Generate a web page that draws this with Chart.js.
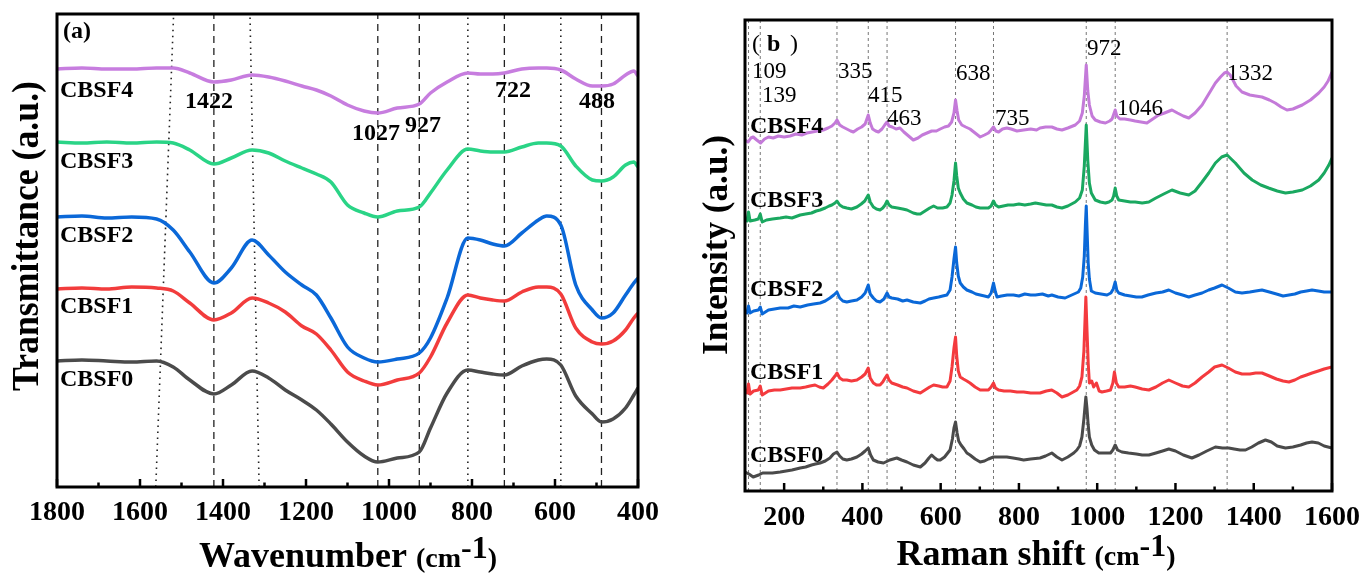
<!DOCTYPE html>
<html><head><meta charset="utf-8">
<script src="https://cdn.jsdelivr.net/npm/chart.js@4.4.1/dist/chart.umd.min.js"></script>
<style>
html,body{margin:0;padding:0;background:#fff;width:1372px;height:574px;overflow:hidden}
#wa{position:absolute;left:0;top:0;width:686px;height:574px}
#wb{position:absolute;left:686px;top:0;width:686px;height:574px}
</style></head><body>
<div id="wa"><canvas id="ca" width="686" height="574"></canvas></div>
<div id="wb"><canvas id="cb" width="686" height="574"></canvas></div>
<script>
// ---------- (a) FTIR data ----------
const seriesNames = ['CBSF0','CBSF1','CBSF2','CBSF3','CBSF4'];
const ftirWavenumbers = [1800,1740,1680,1620,1560,1520,1480,1422,1380,1330,1290,1250,1210,1175,1140,1100,1060,1027,980,927,900,860,810,780,750,722,680,640,620,586,550,510,488,460,430,410,400];
const ftirCBSF4 = [418,419,418,418,419,419,414,405,407,412,410,406,401,397,391,382,376,374,379,383,394,405,414,413,413,414,418,419,419,417,408,401,401,403,412,416,411];
const ftirCBSF3 = [345,344,345,344,345,344,337,323,329,337,334,326,319,313,305,282,274,270,276,280,294,317,338,336,335,335,340,344,344,341,321,307,306,310,322,325,320];
const ftirCBSF2 = [270,271,269,270,268,257,235,204,219,247,232,215,202,192,169,140,129,125,128,134,149,189,249,247,243,241,254,267,271,262,202,177,169,174,192,204,209];
const ftirCBSF1 = [198,199,198,200,199,196,184,167,174,189,184,175,161,153,137,115,106,102,107,114,130,164,192,189,187,186,195,200,200,193,159,145,143,146,157,169,174];
const ftirCBSF0 = [126,127,126,125,126,120,107,93,102,116,109,97,87,77,63,45,31,25,29,35,59,94,117,115,113,112,121,127,128,122,91,73,65,68,79,92,99];
const ftirTicks = [1800,1600,1400,1200,1000,800,600,400];
const ftirMinorTicks = [1700,1500,1300,1100,900,700,500];
const ftirDashedBands = [1422,1027,927,722,488];
const ftirBandLabels = ['1422','1027','927','722','488'];
// dotted guide lines: [bottom, top] wavenumber
const ftirDottedBands = [[1562,1519],[1313,1335],[810,810],[586,586]];

// ---------- (b) Raman data: [Raman shift, intensity] ----------
const ramanCBSF4 = [[100,351],[108,349],[115,353],[121,354],[130,351],[140,348],[150,352],[160,354],[172,353],[185,355],[200,354],[215,355],[230,357],[245,356],[258,358],[272,359],[285,360],[300,361],[312,363],[322,365],[330,368],[335,371],[342,366],[350,364],[360,362],[370,360],[377,359],[388,362],[398,364],[407,367],[415,376],[420,368],[426,362],[434,360],[441,359],[450,362],[457,366],[463,369],[468,365],[476,364],[486,362],[496,363],[506,359],[518,355],[530,351],[542,353],[553,356],[565,358],[577,360],[589,360],[599,362],[610,364],[620,365],[628,369],[634,378],[638,391],[642,380],[646,371],[654,366],[664,364],[675,362],[688,358],[701,354],[712,356],[722,358],[729,361],[735,364],[741,360],[748,359],[758,362],[769,363],[780,362],[795,360],[812,361],[830,362],[845,361],[854,363],[868,364],[884,364],[897,362],[910,361],[925,363],[944,366],[955,370],[962,378],[967,395],[972,426],[976,400],[980,386],[987,375],[995,371],[1008,369],[1021,368],[1032,370],[1038,372],[1046,381],[1050,375],[1058,372],[1070,372],[1085,371],[1097,370],[1112,369],[1127,368],[1142,372],[1157,376],[1172,378],[1191,381],[1205,378],[1220,375],[1234,373],[1250,378],[1268,386],[1285,397],[1302,408],[1315,414],[1325,418],[1332,419],[1340,416],[1355,405],[1370,399],[1390,396],[1405,395],[1421,394],[1440,391],[1455,388],[1470,384],[1485,381],[1500,382],[1512,384],[1524,386],[1545,391],[1566,398],[1580,404],[1590,410],[1600,419]];
const ramanCBSF3 = [[100,271],[105,270],[109,279],[113,270],[125,271],[134,272],[139,277],[144,269],[155,271],[170,272],[190,273],[205,274],[220,273],[241,276],[255,277],[270,278],[282,280],[292,281],[305,283],[315,285],[322,286],[330,288],[335,290],[342,286],[350,284],[360,283],[372,282],[386,284],[397,287],[406,290],[415,296],[420,289],[428,284],[436,282],[445,281],[452,283],[458,286],[463,290],[468,286],[475,284],[490,283],[503,282],[514,281],[530,278],[540,277],[548,277],[560,280],[572,283],[582,285],[592,283],[605,283],[616,284],[624,288],[629,296],[634,310],[638,328],[641,315],[645,303],[650,298],[658,292],[667,288],[680,286],[690,284],[701,283],[712,283],[722,283],[729,285],[735,290],[740,286],[748,284],[760,285],[772,286],[786,286],[800,287],[815,286],[830,287],[842,288],[856,287],[870,286],[884,286],[897,284],[910,283],[925,285],[944,289],[955,293],[962,301],[967,325],[972,366],[976,330],[980,308],[985,298],[995,291],[1008,289],[1021,288],[1030,289],[1038,291],[1042,295],[1046,303],[1050,295],[1055,291],[1070,290],[1085,289],[1097,289],[1115,288],[1132,289],[1150,293],[1170,297],[1191,301],[1212,298],[1234,296],[1250,300],[1268,309],[1285,318],[1302,328],[1318,334],[1332,336],[1345,331],[1353,328],[1375,318],[1396,311],[1418,306],[1438,303],[1460,300],[1481,298],[1500,299],[1524,301],[1545,305],[1566,311],[1580,318],[1592,326],[1600,333]];
const ramanCBSF2 = [[100,179],[105,178],[109,185],[113,178],[122,180],[134,181],[139,184],[144,177],[160,181],[175,182],[190,183],[210,183],[225,185],[241,184],[260,186],[275,187],[292,188],[305,190],[317,193],[327,196],[335,199],[342,193],[350,190],[360,189],[372,190],[386,191],[398,194],[407,198],[415,206],[420,197],[428,193],[436,190],[445,189],[455,192],[463,198],[468,194],[475,193],[490,192],[503,190],[514,191],[530,189],[548,188],[560,190],[570,192],[582,193],[595,194],[605,195],[616,196],[624,201],[629,214],[634,232],[638,244],[641,228],[645,215],[650,208],[658,204],[667,201],[680,199],[690,197],[701,196],[712,195],[722,194],[729,198],[735,208],[740,199],[744,194],[755,195],[770,196],[786,196],[800,195],[815,197],[830,196],[842,196],[860,197],[875,195],[884,196],[900,194],[918,193],[935,196],[952,199],[958,203],[963,214],[967,235],[970,268],[972,285],[974,262],[977,228],[980,212],[985,200],[995,198],[1010,197],[1025,196],[1035,198],[1041,202],[1046,209],[1050,201],[1055,198],[1070,196],[1085,195],[1100,194],[1114,194],[1130,196],[1150,198],[1167,199],[1183,201],[1200,198],[1218,196],[1234,194],[1250,196],[1268,198],[1285,201],[1300,203],[1319,206],[1335,203],[1353,199],[1370,198],[1390,199],[1405,200],[1421,201],[1440,199],[1458,197],[1475,195],[1490,196],[1505,197],[1520,199],[1535,200],[1549,201],[1565,200],[1580,199],[1600,199]];
const ramanCBSF1 = [[100,99],[105,98],[109,107],[113,97],[122,100],[134,101],[139,105],[144,96],[160,100],[175,101],[190,101],[205,102],[220,103],[241,103],[255,104],[266,105],[279,106],[290,104],[300,103],[312,107],[322,111],[330,115],[335,118],[342,113],[350,111],[360,111],[372,110],[386,111],[398,114],[407,117],[415,123],[420,113],[428,108],[436,106],[445,106],[452,109],[458,113],[463,116],[468,111],[475,108],[490,106],[503,104],[514,103],[530,100],[548,98],[560,101],[572,104],[582,106],[595,105],[605,104],[616,104],[624,110],[629,124],[634,143],[638,154],[641,135],[645,120],[650,114],[658,112],[667,110],[675,108],[688,104],[701,101],[712,101],[722,101],[729,104],[735,108],[740,103],[748,101],[762,100],[778,100],[795,99],[812,99],[830,98],[854,98],[870,100],[884,101],[897,98],[910,94],[925,96],[948,101],[955,105],[961,114],[966,140],[971,194],[974,160],[977,128],[980,108],[986,110],[991,104],[998,108],[1005,100],[1012,99],[1024,100],[1034,101],[1040,108],[1044,119],[1049,108],[1055,104],[1070,104],[1085,105],[1097,104],[1115,102],[1132,101],[1150,104],[1167,108],[1183,111],[1200,108],[1218,105],[1234,104],[1250,108],[1268,114],[1285,119],[1300,124],[1319,126],[1335,123],[1353,119],[1370,117],[1390,117],[1405,118],[1421,118],[1440,115],[1458,112],[1475,110],[1490,109],[1505,111],[1520,114],[1535,116],[1549,118],[1565,120],[1580,122],[1600,124]];
const ramanCBSF0 = [[100,19],[110,17],[121,14],[135,16],[145,18],[155,18],[170,18],[190,19],[205,20],[220,21],[241,23],[255,24],[270,26],[280,27],[292,28],[305,30],[317,33],[326,37],[335,39],[342,35],[350,32],[360,31],[372,32],[386,34],[398,37],[407,40],[415,43],[421,36],[428,31],[440,29],[454,28],[470,31],[488,33],[500,31],[514,29],[530,26],[548,24],[560,28],[570,33],[577,36],[585,33],[592,31],[599,31],[610,34],[618,38],[624,41],[630,52],[634,63],[638,69],[642,58],[646,50],[652,46],[660,42],[667,38],[675,36],[688,32],[701,29],[712,30],[722,32],[735,34],[750,34],[769,34],[785,33],[800,32],[812,31],[830,32],[854,33],[868,35],[884,38],[897,34],[910,31],[925,34],[940,38],[948,41],[955,45],[961,54],[966,72],[971,94],[974,82],[977,66],[980,54],[986,46],[993,41],[1004,38],[1020,38],[1034,38],[1040,41],[1046,46],[1052,41],[1063,39],[1080,38],[1100,37],[1115,36],[1132,36],[1150,38],[1167,40],[1183,42],[1200,40],[1220,36],[1242,33],[1260,36],[1280,40],[1302,44],[1320,43],[1336,43],[1350,42],[1365,41],[1379,41],[1395,44],[1412,48],[1430,51],[1445,49],[1460,45],[1481,43],[1500,44],[1520,46],[1535,48],[1549,49],[1565,48],[1580,45],[1600,43]];
const ramanTicks = [200,400,600,800,1000,1200,1400,1600];
const ramanMinorTicks = [300,500,700,900,1100,1300,1500];
const ramanBands = [109,139,335,415,463,638,735,972,1046,1332];

// ---------- helpers ----------
const FONT = "'Liberation Serif','Times New Roman',serif";
const pts = (xs, ys) => xs.map((x, i) => ({x, y: ys[i]}));
const pairPts = (arr) => arr.map(p => ({x: p[0], y: p[1]}));
const guide = (xb, xt, ymax) => [{x: xb, y: 0}, {x: xt, y: ymax}];

function drawRich(ctx, parts, cx, by) {
  let w = 0;
  parts.forEach(p => { ctx.font = p.font; p.w = ctx.measureText(p.t).width; w += p.w; });
  let x = cx - w / 2;
  ctx.textAlign = 'left'; ctx.textBaseline = 'alphabetic';
  parts.forEach(p => { ctx.font = p.font; ctx.fillText(p.t, x, by - (p.dy || 0)); x += p.w; });
}

function decor(o) {
  return {
    id: 'decor' + o.key,
    afterDraw(chart) {
      const ctx = chart.ctx, a = chart.chartArea, xs = chart.scales.x;
      ctx.save();
      ctx.strokeStyle = '#000'; ctx.lineCap = 'butt';
      ctx.lineWidth = 2.5;
      o.major.forEach(v => { const p = xs.getPixelForValue(v); ctx.beginPath(); ctx.moveTo(p, a.bottom); ctx.lineTo(p, a.bottom - 8); ctx.stroke(); });
      o.minor.forEach(v => { const p = xs.getPixelForValue(v); ctx.beginPath(); ctx.moveTo(p, a.bottom); ctx.lineTo(p, a.bottom - 4.5); ctx.stroke(); });
      ctx.lineWidth = 3;
      ctx.strokeRect(a.left, a.top, a.right - a.left, a.bottom - a.top);
      ctx.fillStyle = '#000';
      o.texts.forEach(t => { ctx.font = t.font; ctx.textAlign = 'left'; ctx.textBaseline = 'alphabetic'; ctx.fillText(t.t, t.x, t.y); });
      drawRich(ctx, o.xTitle, o.xTitleX, o.xTitleY);
      ctx.save();
      ctx.translate(o.yTitleX, o.yTitleY); ctx.rotate(-Math.PI / 2);
      ctx.font = o.yTitleFont; ctx.textAlign = 'center'; ctx.textBaseline = 'alphabetic';
      const w = ctx.measureText(o.yTitle).width;
      ctx.scale(o.yTitleLen / w, 1);
      ctx.fillText(o.yTitle, 0, 0);
      ctx.restore();
      ctx.restore();
    }
  };
}

const B24 = 'bold 24px ' + FONT, R23 = '23px ' + FONT;
const titleParts = (main) => [
  {t: main + ' ', font: 'bold 36px ' + FONT},
  {t: '(cm', font: 'bold 28px ' + FONT},
  {t: '-1', font: 'bold 32px ' + FONT, dy: 9},
  {t: ')', font: 'bold 28px ' + FONT}
];
const tickFont = {family: FONT, size: 28, weight: 'bold'};

// ---------- chart (a) ----------
const YA = 473;
const ftirColors = ['#4b4b4b','#f23c3c','#0b68d8','#2ad486','#c77ddf'];
const ftirSeries = [ftirCBSF0, ftirCBSF1, ftirCBSF2, ftirCBSF3, ftirCBSF4];
const dsA = ftirSeries.map((s, i) => ({
  label: seriesNames[i], data: pts(ftirWavenumbers, s), borderColor: ftirColors[i],
  borderWidth: 3.5, pointRadius: 0, cubicInterpolationMode: 'monotone', order: 1
}));
ftirDashedBands.forEach(b => dsA.push({data: guide(b, b, YA), borderColor: '#222', borderWidth: 1.3, borderDash: [7, 5], pointRadius: 0, order: 5}));
ftirDottedBands.forEach(b => dsA.push({data: guide(b[0], b[1], YA), borderColor: '#222', borderWidth: 1.6, borderDash: [1.6, 4.4], pointRadius: 0, order: 5}));

new Chart(document.getElementById('ca'), {
  type: 'line',
  data: {datasets: dsA},
  options: {
    responsive: false, animation: false, devicePixelRatio: 1,
    layout: {padding: {left: 0, top: 14, right: 48, bottom: 0}},
    plugins: {legend: {display: false}, tooltip: {enabled: false}},
    scales: {
      x: {type: 'linear', reverse: true, min: 400, max: 1800,
        grid: {display: false, drawTicks: false}, border: {display: false},
        afterBuildTicks: s => { s.ticks = ftirTicks.map(v => ({value: v})); },
        afterFit: s => { s.height = 87; },
        ticks: {font: tickFont, color: '#000', padding: 9, maxRotation: 0, autoSkip: false, callback: v => String(v)}},
      y: {min: 0, max: YA, grid: {display: false}, border: {display: false}, ticks: {display: false},
        afterFit: s => { s.width = 57; }}
    }
  },
  plugins: [decor({
    key: 'a', major: ftirTicks, minor: ftirMinorTicks,
    texts: [
      {t: '(a)', x: 63, y: 38, font: 'bold 24px ' + FONT},
      {t: 'CBSF4', x: 60, y: 97, font: B24},
      {t: 'CBSF3', x: 60, y: 168, font: B24},
      {t: 'CBSF2', x: 60, y: 242, font: B24},
      {t: 'CBSF1', x: 60, y: 313, font: B24},
      {t: 'CBSF0', x: 60, y: 386, font: B24},
      {t: ftirBandLabels[0], x: 185, y: 108, font: B24},
      {t: ftirBandLabels[1], x: 352, y: 140, font: B24},
      {t: ftirBandLabels[2], x: 405, y: 132, font: B24},
      {t: ftirBandLabels[3], x: 495, y: 97, font: B24},
      {t: ftirBandLabels[4], x: 579, y: 108, font: B24}
    ],
    xTitle: titleParts('Wavenumber'), xTitleX: 348, xTitleY: 567,
    yTitle: 'Transmittance (a.u.)', yTitleFont: 'bold 37px ' + FONT, yTitleLen: 310, yTitleX: 38, yTitleY: 236
  })]
});

// ---------- chart (b) ----------
const YB = 471;
const ramanColors = ['#4a4a4a','#f43a3e','#0a68d8','#1aa860','#c47ad9'];
const ramanSeries = [ramanCBSF0, ramanCBSF1, ramanCBSF2, ramanCBSF3, ramanCBSF4];
const dsB = ramanSeries.map((s, i) => ({
  label: seriesNames[i], data: pairPts(s), borderColor: ramanColors[i],
  borderWidth: 3, pointRadius: 0, tension: 0, borderJoinStyle: 'round', order: 1
}));
ramanBands.forEach(b => dsB.push({data: guide(b, b, YB), borderColor: '#777', borderWidth: 1, borderDash: [3, 3], pointRadius: 0, order: 5}));

new Chart(document.getElementById('cb'), {
  type: 'line',
  data: {datasets: dsB},
  options: {
    responsive: false, animation: false, devicePixelRatio: 1,
    layout: {padding: {left: 0, top: 20, right: 40, bottom: 0}},
    plugins: {legend: {display: false}, tooltip: {enabled: false}},
    scales: {
      x: {type: 'linear', min: 100, max: 1600,
        grid: {display: false, drawTicks: false}, border: {display: false},
        afterBuildTicks: s => { s.ticks = ramanTicks.map(v => ({value: v})); },
        afterFit: s => { s.height = 83; },
        ticks: {font: tickFont, color: '#000', padding: 10, maxRotation: 0, autoSkip: false, callback: v => String(v)}},
      y: {min: 0, max: YB, grid: {display: false}, border: {display: false}, ticks: {display: false},
        afterFit: s => { s.width = 59; }}
    }
  },
  plugins: [decor({
    key: 'b', major: ramanTicks, minor: ramanMinorTicks,
    texts: [
      {t: '(', x: 66, y: 51, font: '24px ' + FONT},
      {t: 'b', x: 81, y: 51, font: 'bold 24px ' + FONT},
      {t: ')', x: 104, y: 51, font: '24px ' + FONT},
      {t: 'CBSF4', x: 64, y: 133, font: B24},
      {t: 'CBSF3', x: 64, y: 207, font: B24},
      {t: 'CBSF2', x: 64, y: 296, font: B24},
      {t: 'CBSF1', x: 64, y: 379, font: B24},
      {t: 'CBSF0', x: 64, y: 462, font: B24},
      {t: String(ramanBands[0]), x: 66, y: 78, font: R23},
      {t: String(ramanBands[1]), x: 76, y: 102, font: R23},
      {t: String(ramanBands[2]), x: 152, y: 78, font: R23},
      {t: String(ramanBands[3]), x: 182, y: 102, font: R23},
      {t: String(ramanBands[4]), x: 201, y: 125, font: R23},
      {t: String(ramanBands[5]), x: 270, y: 80, font: R23},
      {t: String(ramanBands[6]), x: 309, y: 125, font: R23},
      {t: String(ramanBands[7]), x: 401, y: 55, font: R23},
      {t: String(ramanBands[8]), x: 431, y: 115, font: R23},
      {t: String(ramanBands[9]), x: 541, y: 80, font: R23}
    ],
    xTitle: titleParts('Raman shift'), xTitleX: 350, xTitleY: 565,
    yTitle: 'Intensity (a.u.)', yTitleFont: 'bold 36px ' + FONT, yTitleLen: 220, yTitleX: 41, yTitleY: 245
  })]
});
</script></body></html>
